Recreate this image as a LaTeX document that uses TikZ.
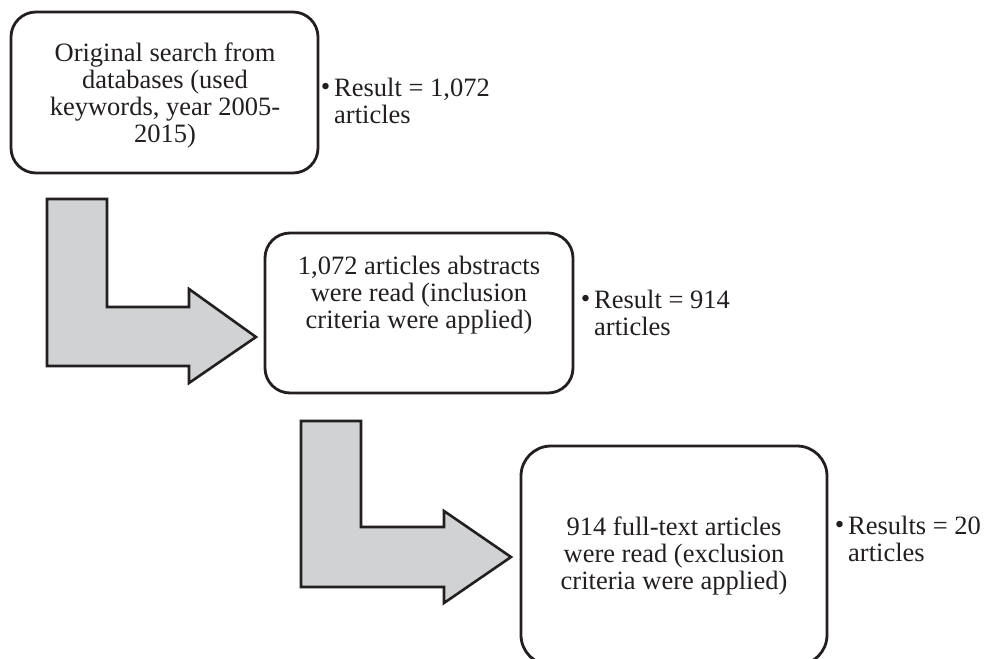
\documentclass[tikz,border=0pt]{standalone}
\usepackage{fontspec}
\setmainfont{Liberation Serif}
\definecolor{ink}{HTML}{231F20}
\definecolor{arrowgray}{HTML}{D1D2D4}
\newcommand{\resultdot}{\makebox[0pt][r]{\raisebox{0.5pt}{\fontsize{27}{27}\selectfont •}\hspace{4pt}}}
\begin{document}
\begin{tikzpicture}[x=1pt,y=-1pt,
  stepbox/.style={draw=ink, line width=2.8pt, rounded corners=#1, fill=white, inner sep=0pt},
  boxtext/.style={font=\fontsize{26.5}{27}\selectfont, align=center, inner sep=0pt, anchor=base, text=ink},
  resulttext/.style={font=\fontsize{26.5}{27}\selectfont, align=left, inner sep=0pt, anchor=base west, text=ink},
  bentarrow/.style={draw=ink, line width=2.6pt, fill=arrowgray, line join=miter}
]
\useasboundingbox (0,0) rectangle (986,659);
\clip (0,0) rectangle (986,659);
\fill[white] (0,0) rectangle (986,659);

% process boxes
\node[stepbox=25pt, minimum width=307pt, minimum height=161pt] (s1) at (164.5,92.5) {};
\node[stepbox=25pt, minimum width=308pt, minimum height=160pt] (s2) at (419,313) {};
\node[stepbox=30pt, minimum width=306pt, minimum height=219pt] (s3) at (674,555.5) {};

% bent arrows between the steps
\draw[bentarrow] (47,199) -- (107,199) -- (107,307) -- (189,307) -- (189,289)
  -- (256,337) -- (189,383) -- (189,366) -- (47,366) -- cycle;
\draw[bentarrow] (301,421) -- (361,421) -- (361,527) -- (444,527) -- (444,511)
  -- (511,557) -- (444,603) -- (444,587) -- (301,587) -- cycle;

% box texts (anchored at the baseline of the last line)
\node[boxtext] (t1) at (165,142) {Original search from\\databases (used\\keywords, year 2005-\\2015)};
\node[boxtext] (t2) at (419,328) {1,072 articles abstracts\\were read (inclusion\\criteria were applied)};
\node[boxtext] (t3) at (674,589) {914 full-text articles\\were read (exclusion\\criteria were applied)};

% results
\node[resulttext] (r1) at (334,123) {\resultdot Result = 1,072\\articles};
\node[resulttext] (r2) at (594,335) {\resultdot Result = 914\\articles};
\node[resulttext] (r3) at (848,561) {\resultdot Results = 20\\articles};
\end{tikzpicture}
\end{document}
